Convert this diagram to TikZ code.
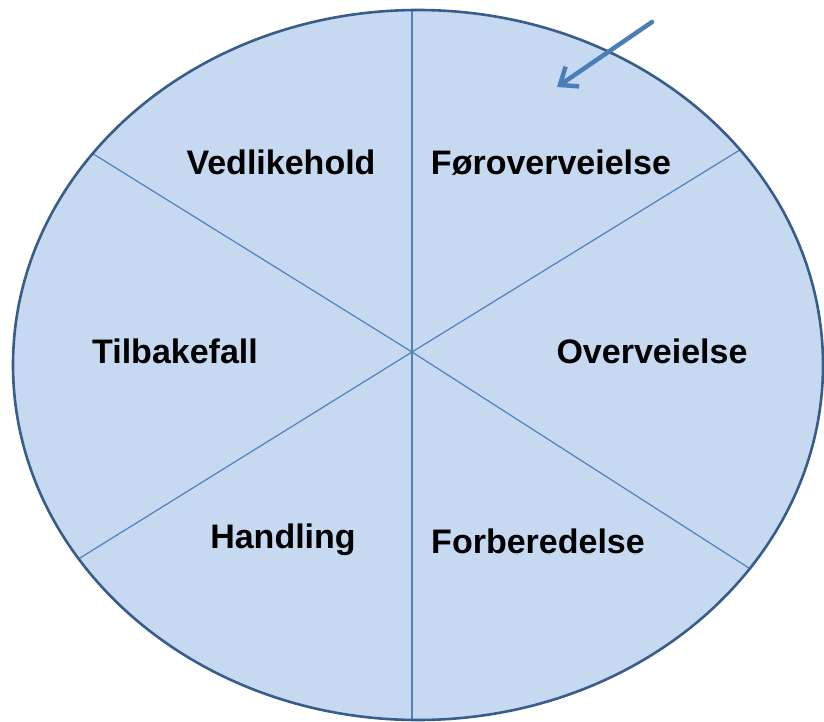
\documentclass[tikz,border=0pt]{standalone}
\usepackage{fontspec}
\setmainfont{Liberation Sans}
\usetikzlibrary{arrows.meta,calc}
\definecolor{fillblue}{HTML}{C6D9F1}
\definecolor{edgeblue}{HTML}{385D8A}
\definecolor{spokeblue}{HTML}{4F81BD}
\definecolor{arrowblue}{HTML}{4A7EBB}
\tikzset{
  stage/.style={anchor=base, inner sep=0pt, font=\fontsize{34}{36}\selectfont\bfseries, text=black},
  spoke/.style={draw=spokeblue, line width=1.2pt},
}
\begin{document}
\begin{tikzpicture}[x=1pt,y=-1pt]
\useasboundingbox (0,0) rectangle (824,722);
\fill[fillblue] (418,365) ellipse [x radius=405, y radius=355];
\coordinate (c) at (412,352);
\begin{scope}
\clip (418,365) ellipse [x radius=405, y radius=355];
\draw[spoke] (412,-20) -- (412,760);
\draw[spoke] (c) -- ($(c)!1.5!(95,155)$);
\draw[spoke] (c) -- ($(c)!1.5!(743,148)$);
\draw[spoke] (c) -- ($(c)!1.5!(80,558)$);
\draw[spoke] (c) -- ($(c)!1.5!(752,570)$);
\end{scope}
\draw[edgeblue, line width=2.6pt] (418,365) ellipse [x radius=405, y radius=355];
\node[stage] (vedl) at (281,175) {Vedlikehold};
\node[stage] (foro) at (551,175) {Føroverveielse};
\node[stage] (tilb) at (175,363) {Tilbakefall};
\node[stage] (over) at (652,363) {Overveielse};
\node[stage] (hand) at (283,548) {Handling};
\node[stage] (forb) at (538,553) {Forberedelse};
\coordinate (astart) at (652,22);
\coordinate (aend) at (557,87);
\draw[arrowblue, line width=4.5pt, line cap=round, line join=round,
  -{Straight Barb[length=15pt,width=24pt,line width=4.5pt]}] (astart) -- (aend);
\end{tikzpicture}
\end{document}
